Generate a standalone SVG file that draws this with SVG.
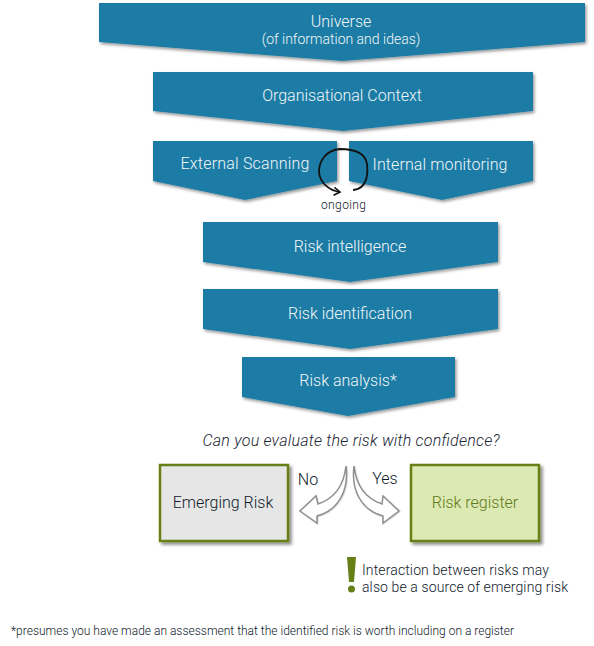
<svg xmlns="http://www.w3.org/2000/svg" width="594" height="646" viewBox="0 0 594 646">
<style>
text{font-family:Roboto,"Liberation Sans",sans-serif;font-weight:300}
.p{fill:#1c7ca5;filter:url(#s)}
.w{fill:#f2f6f8;font-size:16px;text-anchor:middle}
.d{fill:#0f1a2a}
.box{stroke:#667f17;stroke-width:2.5;filter:url(#s2)}
.ar{fill:#fff;stroke:#8f8f8f;stroke-width:1.5;stroke-linejoin:miter;filter:url(#s3)}
</style>
<defs>
<filter id="s" x="-5%" y="-10%" width="110%" height="125%"><feDropShadow dx="1.5" dy="2" stdDeviation="1.5" flood-color="#000" flood-opacity=".4"/></filter>
<filter id="s2" x="-5%" y="-5%" width="115%" height="115%"><feDropShadow dx="2.5" dy="2.5" stdDeviation="1.5" flood-color="#000" flood-opacity=".45"/></filter>
<filter id="s3" x="-10%" y="-10%" width="120%" height="120%"><feDropShadow dx="0.5" dy="0.5" stdDeviation="0.6" flood-color="#000" flood-opacity=".25"/></filter>
<marker id="h" markerWidth="10" markerHeight="10" refX="7" refY="4" orient="auto" markerUnits="userSpaceOnUse"><path d="M1 0L7 4L1 8" fill="none" stroke="#111" stroke-width="1.6"/></marker>
</defs>
<g id="universe"><path class="p" d="M99 3H585V42L342 61L99 42Z"/><text class="w" x="341" y="27">Universe</text><text class="w" x="341" y="44" style="font-size:14px">(of information and ideas)</text></g>
<g id="context"><path class="p" d="M153 72H533V111L343 131L153 111Z"/><text class="w" x="342" y="101">Organisational Context</text></g>
<g id="external"><path class="p" d="M153 141H337V181L245 200L153 181Z"/><text class="w" x="245" y="169" textLength="129">External Scanning</text></g>
<g id="internal"><path class="p" d="M349 141H533V181L442 200L349 181Z"/><text class="w" x="440" y="170" textLength="135">Internal monitoring</text></g>
<g id="intelligence"><path class="p" d="M203 222H498V262L350 282L203 262Z"/><text class="w" x="350" y="252">Risk intelligence</text></g>
<g id="identification"><path class="p" d="M203 289H498V329L350 349L203 329Z"/><text class="w" x="350" y="319">Risk identification</text></g>
<g id="analysis"><path class="p" d="M242 357H455V397L348 416L242 397Z"/><text class="w" x="348" y="386">Risk analysis*</text></g>
<g id="connectors">
<path d="M353 190C368 189 368 172 367 164C365 151 352 149 340 149C326 150 319 161 319 172C320 184 331 191 340 192" fill="none" stroke="#111" stroke-width="1.8" marker-end="url(#h)"/>
<path class="ar" d="M346 466C344 484 336 498 318 504L316 496L300 511L317 523L317 516C339 510 349 490 346 466Z"/>
<path class="ar" d="M354 466C351 490 361 510 383 516L383 523L399 511L383 496L382 504C364 498 356 484 354 466Z"/>
</g>
<g id="ongoing"><text x="343.500" y="209" font-size="12" text-anchor="middle" class="d" textLength="45">ongoing</text></g>
<g id="question"><text x="351" y="446" font-size="16" font-style="italic" text-anchor="middle" fill="#1a2533" textLength="297">Can you evaluate the risk with confidence?</text></g>
<g id="no"><text x="308" y="485" font-size="16" text-anchor="middle" class="d">No</text></g>
<g id="yes"><text x="385" y="484" font-size="16" text-anchor="middle" class="d">Yes</text></g>
<g id="emerging"><rect class="box" x="160" y="465" width="128" height="76" fill="#e6e6e6"/><text x="223" y="508" font-size="16" text-anchor="middle" class="d">Emerging Risk</text></g>
<g id="register"><rect class="box" x="411" y="465" width="128" height="76" fill="#dce9b2"/><text x="475" y="508" font-size="16" text-anchor="middle" fill="#5f7a20">Risk register</text></g>
<g id="note"><path d="M347 557H356L354 582H349Z" fill="#667f17"/><circle cx="351.500" cy="589" r="3.500" fill="#667f17"/>
<text x="362" y="575" font-size="14" class="d" textLength="187">Interaction between risks may</text><text x="362" y="592" font-size="14" class="d" textLength="206">also be a source of emerging risk</text></g>
<g id="footnote"><text x="11" y="635" font-size="12" class="d" textLength="503">*presumes you have made an assessment that the identified risk is worth including on a register</text></g>
</svg>
